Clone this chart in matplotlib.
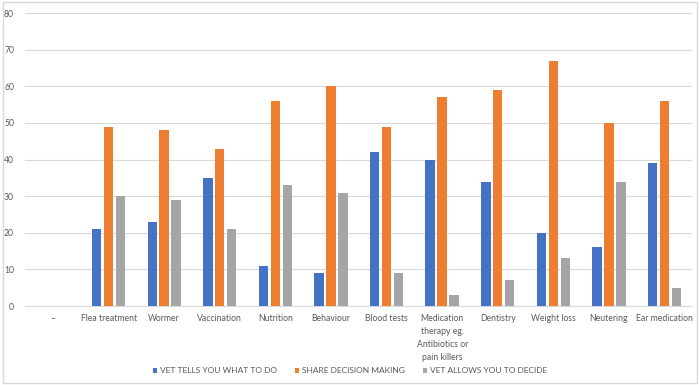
import numpy as np
import matplotlib.pyplot as plt
from matplotlib.patches import Rectangle

categories = ['–', 'Flea treatment', 'Wormer', 'Vaccination', 'Nutrition', 'Behaviour',
              'Blood tests', 'Medication\ntherapy eg.\nAntibiotics or\npain killers',
              'Dentistry', 'Weight loss', 'Neutering', 'Ear medication']
vet_tells = [0, 21, 23, 35, 11, 9, 42, 40, 34, 20, 16, 39]
share_decision = [0, 49, 48, 43, 56, 60, 49, 57, 59, 67, 50, 56]
vet_allows = [0, 30, 29, 21, 33, 31, 9, 3, 7, 13, 34, 5]
series_names = ['VET TELLS YOU WHAT TO DO', 'SHARE DECISION MAKING', 'VET ALLOWS YOU TO DECIDE']
colors = ['#4472C4', '#ED7D31', '#A5A5A5']

plt.rcParams['font.family'] = ['Lato', 'DejaVu Sans']

fig = plt.figure(figsize=(7, 3.85), dpi=100)
ax = fig.add_axes([0.036, 0.205, 0.953, 0.761])

x = np.arange(len(categories))
bw = 0.17
step = 0.215
for i, (vals, name, c) in enumerate(zip([vet_tells, share_decision, vet_allows], series_names, colors)):
    ax.bar(x + (i - 1) * step, vals, bw, color=c, label=name, zorder=3)

ax.set_xlim(-0.5, len(categories) - 0.5)
ax.set_ylim(0, 80)
ax.set_yticks(range(0, 81, 10))
ax.yaxis.grid(True, color='#D9D9D9', linewidth=0.8, zorder=0)
ax.set_xticks(x)
ax.set_xticklabels(categories, fontsize=6.2, color='#595959', linespacing=1.55)
ax.tick_params(axis='y', labelsize=6.2, labelcolor='#595959', length=0, pad=8)
ax.tick_params(axis='x', length=0, pad=6)
for s in ['top', 'right', 'left']:
    ax.spines[s].set_visible(False)
ax.spines['bottom'].set_color('#D9D9D9')

fig.legend(loc='center', bbox_to_anchor=(0.5, 0.037), ncol=3, frameon=False,
           fontsize=6, handlelength=0.5, handleheight=0.5, columnspacing=2.2,
           handletextpad=0.3, labelcolor='#595959')

fig.patches.append(Rectangle((0.004, 0.006), 0.992, 0.988, transform=fig.transFigure,
                             fill=False, edgecolor='#D9D9D9', linewidth=1))

fig.savefig('out.png', dpi=100)
